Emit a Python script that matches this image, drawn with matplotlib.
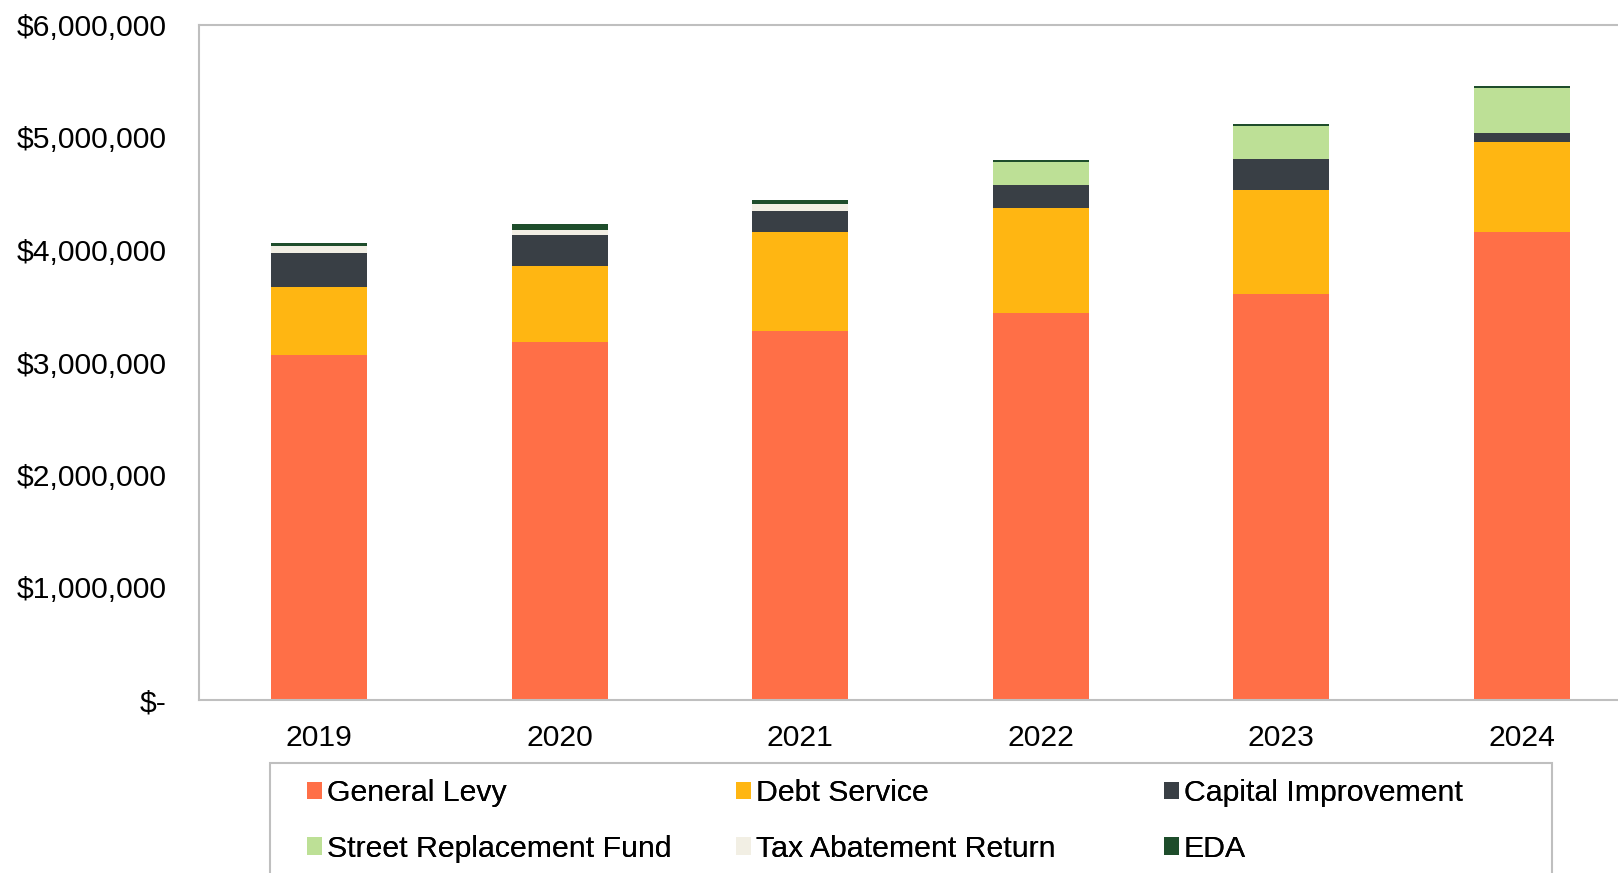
#Stacked levy chart by fund, 2019-2024
import matplotlib.pyplot as plt
from matplotlib.patches import Rectangle
from matplotlib.ticker import FuncFormatter
import numpy as np

plt.rcParams['font.family'] = ['Liberation Sans', 'DejaVu Sans']

#Data (dollars)
years = ["2019", "2020", "2021", "2022", "2023", "2024"]
general_levy = [3064000, 3183000, 3284000, 3439000, 3613000, 4162000]
debt_service = [604000, 677000, 878000, 933000, 924000, 795000]
capital_improvement = [302000, 274000, 183000, 210000, 274000, 83000]
street_replacement = [0, 0, 0, 199000, 290000, 403000]
tax_abatement = [62000, 47000, 65000, 0, 0, 0]
eda = [33000, 53000, 33000, 15000, 15000, 15000]

series_names = ["General Levy", "Debt Service", "Capital Improvement",
                "Street Replacement Fund", "Tax Abatement Return", "EDA"]
series_values = [general_levy, debt_service, capital_improvement,
                 street_replacement, tax_abatement, eda]
series_colors = ["#FF6F47", "#FFB612", "#393F45", "#BDE096", "#F2EFE4", "#1E4D2B"]

W, H = 1618, 873
fig = plt.figure(figsize=(W / 100, H / 100), dpi=100)
ax = fig.add_axes([199 / W, 1 - 700 / H, (1642 - 199) / W, (700 - 25) / H])

x = np.arange(len(years))
bottom = np.zeros(len(years))
handles = []
for name, vals, col in zip(series_names, series_values, series_colors):
    b = ax.bar(x, vals, width=0.4, bottom=bottom, color=col, label=name, linewidth=0)
    handles.append(b)
    bottom += np.array(vals)

ax.set_xlim(-0.5, len(years) - 0.5)
ax.set_ylim(0, 6000000)
ax.set_yticks(np.arange(0, 6000001, 1000000))
ax.yaxis.set_major_formatter(FuncFormatter(lambda v, p: "$-" if v == 0 else "${:,.0f}".format(v)))
ax.set_xticks(x)
ax.set_xticklabels(years)
ax.tick_params(axis='y', length=0, pad=23.5, labelsize=21.7, colors='black')
ax.tick_params(axis='x', length=0, pad=17, labelsize=21.7, colors='black')

for s in ax.spines.values():
    s.set_color('#BFBFBF')
    s.set_linewidth(1.5)

#Legend box
fig.patches.append(Rectangle((270 / W, 1 - 900 / H), (1552 - 270) / W, (900 - 763) / H,
                             transform=fig.transFigure, facecolor='none',
                             edgecolor='#BFBFBF', linewidth=1.5))

#Three legend columns with equal spacing
col_x = [307, 736, 1164]
for i, cx in enumerate(col_x):
    leg = fig.legend(handles=[handles[i], handles[i + 3]],
                     loc='upper left', bbox_to_anchor=(cx / W, 1 - 779 / H),
                     frameon=False, fontsize=21.8, handlelength=0.5, handleheight=0.5,
                     handletextpad=0.15, labelspacing=0.92, borderpad=0, borderaxespad=0)
    fig.add_artist(leg)

fig.savefig("out.png", dpi=100)
